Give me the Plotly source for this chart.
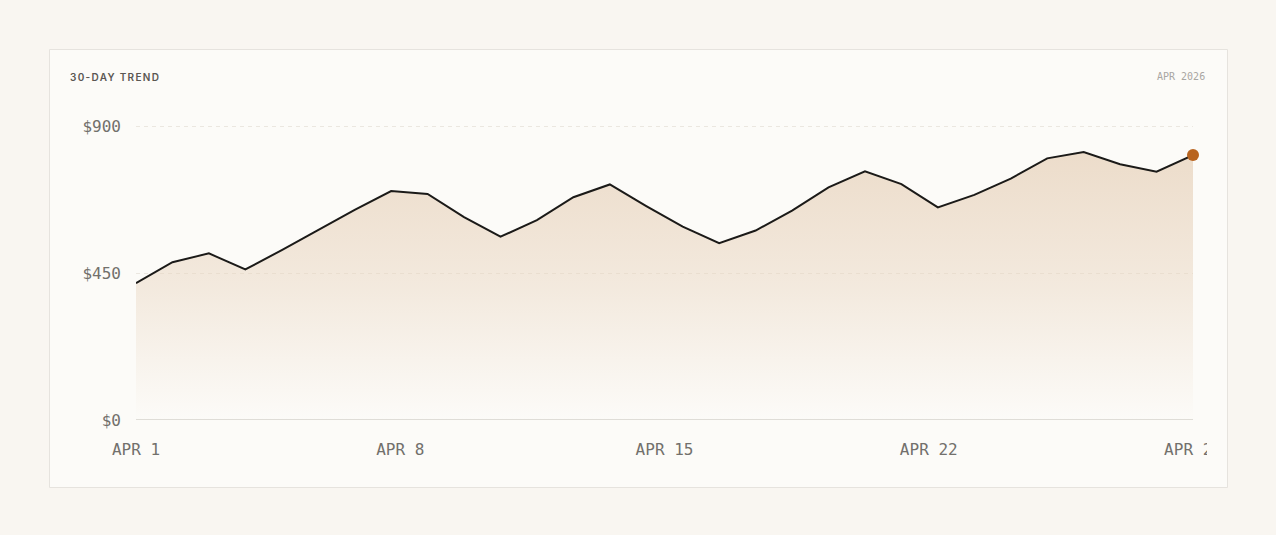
import numpy as np
import plotly.graph_objects as go

# daily values, Apr 1 .. Apr 30
days = list(range(1, 31))
values = [419, 483, 510, 461, 520, 582, 643, 701, 692, 621,
          561, 612, 682, 721, 655, 592, 541, 580, 641, 712,
          761, 722, 651, 689, 739, 801, 820, 783, 760, 811]

y_ticks = [0, 450, 900]
y_labels = ["$0", "$450", "$900"]
x_labels = ["APR 1", "APR 8", "APR 15", "APR 22", "APR 29"]

page_bg = "#f9f6f1"
card_bg = "#fcfbf8"
mono = "DejaVu Sans Mono, Liberation Mono, monospace"

# pixel layout: $0 at y=420, $900 at y=126, days 1..30 over x=136..1193
L, R, B = 136, 1193, 420
T = 116
y_top = 900 + (126 - T) * 900 / (B - 126)

def px(x):
    return (x - L) / (R - L)

def py(y):
    return (B - y) / (B - T)

x_idx = [d - 1 for d in days]

fig = go.Figure()

fig.add_trace(go.Scatter(
    x=x_idx, y=values,
    mode="lines",
    line=dict(color="#1b1a18", width=2),
    fill="tozeroy",
    fillgradient=dict(type="vertical", start=0, stop=900,
                      colorscale=[[0, "rgba(232,212,190,0.0)"],
                                  [0.45, "rgba(232,212,190,0.45)"],
                                  [1, "rgba(232,212,190,0.85)"]]),
    hoverinfo="skip",
))

fig.add_trace(go.Scatter(
    x=[x_idx[-1]], y=[values[-1]],
    mode="markers",
    marker=dict(color="#b8641f", size=12),
    cliponaxis=False,
    hoverinfo="skip",
))

fig.update_layout(
    width=1276, height=535,
    margin=dict(l=L, r=1276 - R, t=T, b=535 - B, pad=0),
    paper_bgcolor=page_bg,
    plot_bgcolor="rgba(0,0,0,0)",
    showlegend=False,
    xaxis=dict(
        range=[0, 29],
        tickvals=list(np.linspace(0, 29, 5)),
        ticktext=x_labels,
        showgrid=False, zeroline=False, showline=False,
        ticks="", ticklabelstandoff=18,
        tickfont=dict(family=mono, size=16, color="#72706c"),
    ),
    yaxis=dict(
        range=[0, y_top],
        tickvals=y_ticks,
        ticktext=y_labels,
        showgrid=True, gridcolor="#ebe7e0", griddash="4px,4px", gridwidth=1,
        zeroline=False, showline=False,
        ticks="", ticklabelstandoff=14,
        tickfont=dict(family=mono, size=16, color="#72706c"),
    ),
    shapes=[
        # card
        dict(type="rect", xref="paper", yref="paper", layer="below",
             x0=px(49.5), x1=px(1227.5), y0=py(487.5), y1=py(49.5),
             fillcolor=card_bg, line=dict(color="#e6e3de", width=1)),
        # baseline
        dict(type="line", xref="paper", yref="y", layer="above",
             x0=0, x1=1, y0=0, y1=0, line=dict(color="#d6d3cd", width=1.5)),
        # clip overflowing tick text at the card padding
        dict(type="rect", xref="paper", yref="paper", layer="above",
             x0=px(1207), x1=px(1226.5), y0=py(470), y1=py(430),
             fillcolor=card_bg, line=dict(width=0)),
    ],
    annotations=[
        dict(text='<span style="letter-spacing:1.3px">30-DAY TREND</span>',
             xref="paper", yref="paper",
             x=px(68), y=py(77), xanchor="left", yanchor="middle",
             showarrow=False,
             font=dict(family="Inter, Noto Sans, sans-serif", size=10,
                       color="#5a5753", weight=600)),
        dict(text="APR 2026", xref="paper", yref="paper",
             x=px(1207), y=py(77), xanchor="right", yanchor="middle",
             showarrow=False,
             font=dict(family=mono, size=10, color="#a9a6a2")),
    ],
)

fig.write_html(
    "out.html",
    config={"displayModeBar": False},
    post_script="document.body.style.margin='0';"
                "document.body.style.background='%s';" % page_bg,
)
